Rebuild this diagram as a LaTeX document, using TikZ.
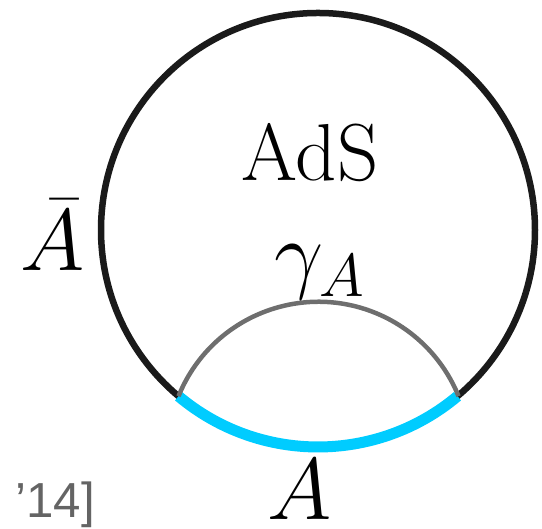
\documentclass[tikz,border=0pt]{standalone}
\usepackage{amsmath}
\usepackage{fontspec}
\usepackage{tikz}
\usetikzlibrary{calc}
\newfontfamily\citefont{Liberation Sans}
\definecolor{bulk_colour}{RGB}{26, 26, 26}
\definecolor{region_colour}{RGB}{0, 204, 255}
\definecolor{rt_colour}{RGB}{110, 110, 110}
\definecolor{cite_colour}{RGB}{100, 100, 100}

\begin{document}
\begin{tikzpicture}[
    x=0.1mm, y=0.1mm,
    every node/.style={inner sep=0pt, font=\fontsize{23}{28}\selectfont},
    boundary/.style={draw=bulk_colour, line width=0.65mm},
    region/.style={draw=region_colour, line width=1.1mm},
    surface/.style={draw=rt_colour, line width=0.45mm},
    lbl/.style={anchor=base},
]
\useasboundingbox (0,0) rectangle (542,529);
\coordinate (c) at (318,299);
\coordinate (aL) at ($(c)+(230:217)$);
\coordinate (aR) at ($(c)+(310:217)$);

% boundary of AdS
\draw[boundary] (c) circle[radius=217];
\draw[region] (aL) arc[start angle=230, end angle=310, radius=217];
% minimal surface
\draw[surface] (aL) arc[start angle=158, end angle=22, radius=151];

\node[lbl] (ads)   at (310,348) {AdS};
\node[lbl] (gamma) at (320,246) {$\gamma_A$};
\node[lbl] (abar)  at (53,258)  {$\bar{A}$};
\node[lbl] (a)     at (300,9)   {$A$};
\node[lbl, anchor=base west, font=\citefont\fontsize{14}{16}\selectfont, text=cite_colour]
    (cite) at (15,11) {’14]};
\end{tikzpicture}
\end{document}
